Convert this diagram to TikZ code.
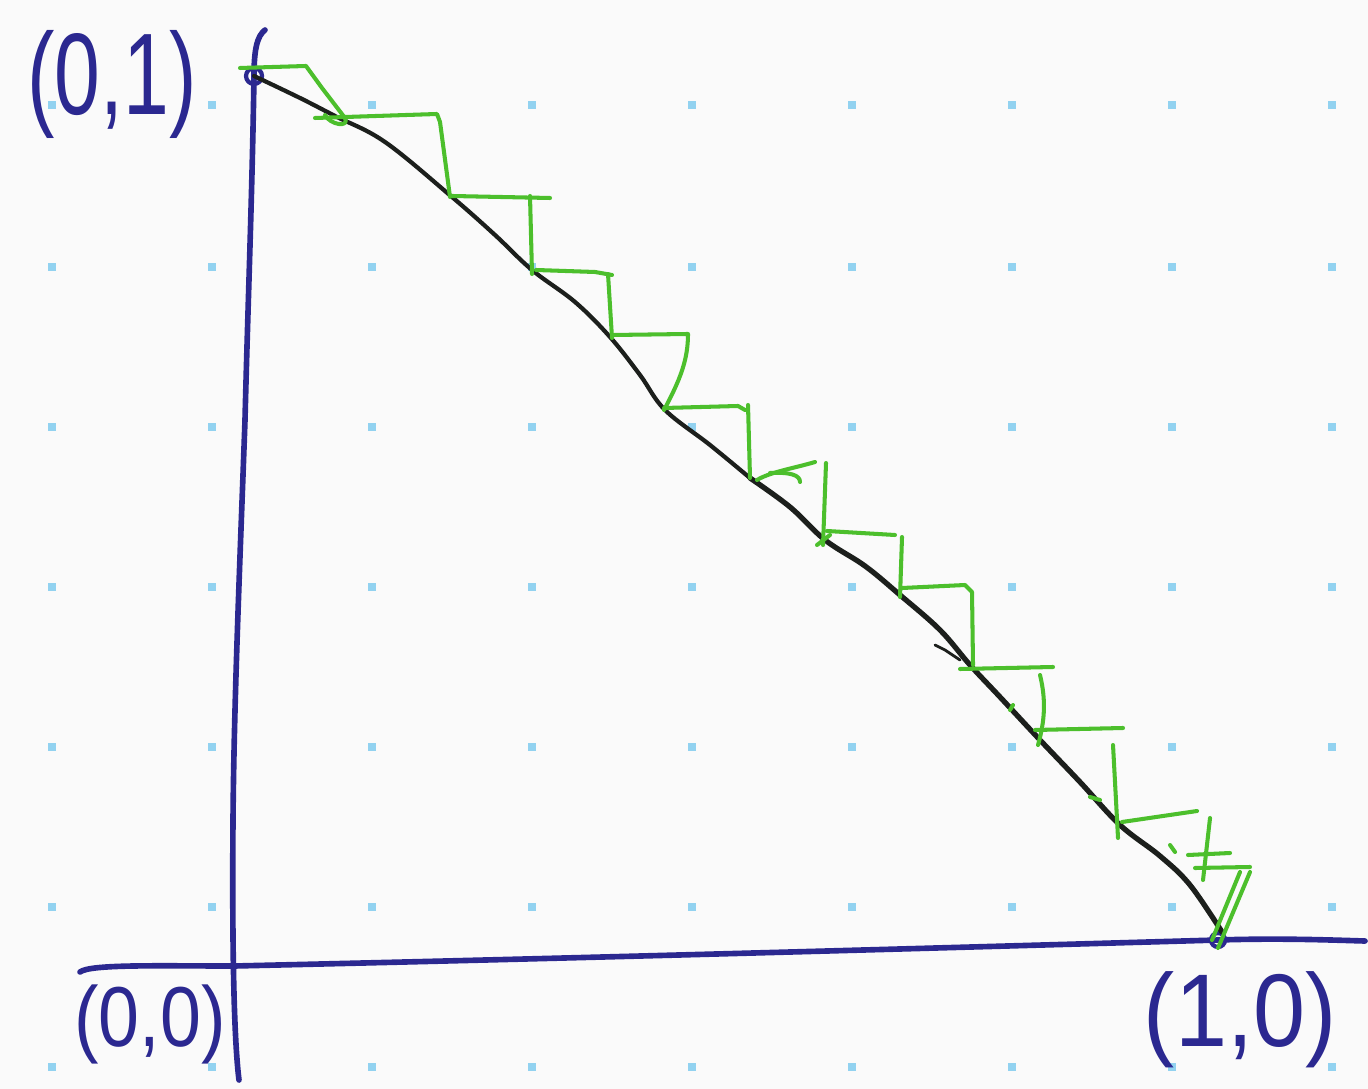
\documentclass[tikz,border=0pt]{standalone}
\usepackage{fontspec}
\usepackage{graphicx}
\setmainfont{Liberation Sans}
\definecolor{bgc}{HTML}{FAFAFA}
\definecolor{axisblue}{HTML}{2B2890}
\definecolor{penGreen}{HTML}{4CBF2C}
\definecolor{penBlack}{HTML}{1C1F1C}
\definecolor{dotblue}{HTML}{92D2F0}
\tikzset{
  axisline/.style={draw=axisblue, line width=1.6pt, line cap=round, line join=round},
  hyp/.style={draw=penBlack, line width=1.5pt, line cap=round, line join=round},
  stair/.style={draw=penGreen, line width=1.15pt, line cap=round, line join=round},
  dotmark/.style={fill=dotblue, draw=none},
  lbl/.style={text=axisblue, inner sep=0pt}
}
\begin{document}
\begin{tikzpicture}[x=0.01cm, y=-0.01cm]
\useasboundingbox (0,0) rectangle (1368,1089);
\fill[bgc] (0,0) rectangle (1368,1089);
% dot grid
\foreach \gx in {52,212,372,532,692,852,1012,1172,1332}{
  \foreach \gy in {105,267,427,587,747,907,1067}{
    \fill[dotmark] (\gx-4,\gy-4) rectangle (\gx+4,\gy+4);
  }
}
% key points
\coordinate (A) at (254,76);
\coordinate (O) at (234,966);
\coordinate (B) at (1218,940);
% axes
\draw[axisline] (265,30) .. controls (257,36) and (254,50) .. (254,76)
  .. controls (252,200) and (248,300) .. (245,420)
  .. controls (240,560) and (234,700) .. (233,820)
  .. controls (232,950) and (234,1040) .. (239,1080);
\draw[axisline] (80,972) .. controls (90,964) and (160,966) .. (234,966)
  .. controls (500,960) and (800,952) .. (B)
  .. controls (1280,938) and (1330,940) .. (1365,941);
\draw[axisline, line width=1.2pt] (A) circle (8);
\draw[axisline, line width=1.2pt] (B) circle (7);
% hypotenuse
\draw[hyp, line width=1.2pt] plot[smooth, tension=0.6] coordinates {(254,76) (300,98) (335,116) (385,142) (452,197) (495,235) (532,270) (575,302) (610,337) (640,375) (665,410) (710,445) (750,478)};
\draw[hyp] plot[smooth, tension=0.6] coordinates {(750,478) (790,507) (825,540) (865,566) (900,595) (940,630) (970,665) (1000,697) (1040,740) (1080,782) (1120,825) (1160,856) (1190,885) (1222,932)};
\draw[hyp, line width=0.8pt] (935,645) -- (945,650) -- (960,660);
% green staircase
\draw[stair] (240,68) -- (306,66) -- (322,88) -- (345,118) .. controls (350,128) and (330,125) .. (325,115);
\draw[stair] (315,118) -- (437,114) -- (440,122) -- (450,197);
\draw[stair] (452,196) -- (550,198);
\draw[stair] (530,196) -- (532,274);
\draw[stair] (536,270) -- (595,272) -- (612,275);
\draw[stair] (608,274) -- (612,338);
\draw[stair] (612,335) -- (688,334) .. controls (688,360) and (680,380) .. (664,410);
\draw[stair] (664,408) -- (738,406) -- (745,410);
\draw[stair] (748,405) -- (750,478);
\draw[stair] (757,480) .. controls (770,472) and (795,468) .. (815,462);
\draw[stair] (770,473) .. controls (790,472) and (800,475) .. (800,482);
\draw[stair] (826,463) -- (823,545);
\draw[stair] (817,545) -- (830,535);
\draw[stair] (827,531) -- (895,535);
\draw[stair] (902,537) -- (900,597);
\draw[stair] (902,588) -- (965,585) -- (972,592) -- (973,665);
\draw[stair] (960,669) -- (1053,667);
\draw[stair] (1040,675) .. controls (1046,700) and (1045,720) .. (1038,745);
\draw[stair] (1010,710) -- (1013,705);
\draw[stair] (1035,730) -- (1123,728);
\draw[stair] (1113,745) -- (1118,838);
\draw[stair] (1090,797) -- (1100,800);
\draw[stair] (1122,822) -- (1197,811);
\draw[stair] (1210,818) -- (1203,880);
\draw[stair] (1170,845) -- (1175,852);
\draw[stair] (1188,855) -- (1230,853);
\draw[stair] (1195,868) -- (1250,867);
\draw[stair] (1250,872) -- (1218,948);
\draw[stair] (1240,872) -- (1212,940);
% labels
\node[lbl, font=\fontsize{30}{34}\selectfont] (L01) at (112,84) {\scalebox{0.78}[1.1]{(0,1)}};
\node[lbl, font=\fontsize{22}{26}\selectfont] (L00) at (150,1024) {\scalebox{0.95}[1.1]{(0,0)}};
\node[lbl, font=\fontsize{28}{32}\selectfont] (L10) at (1240,1020) {\scalebox{0.95}[1.05]{(1,0)}};
\end{tikzpicture}
\end{document}
